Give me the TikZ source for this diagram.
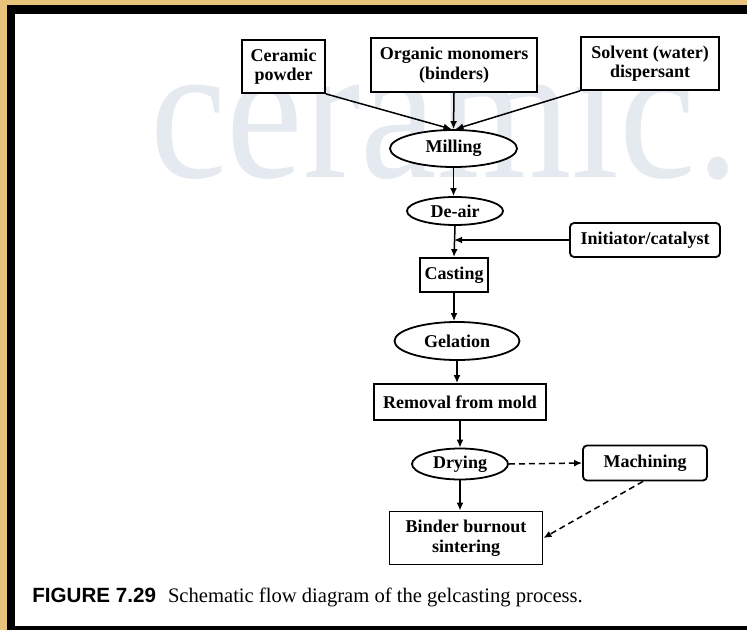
\documentclass[tikz,border=0pt]{standalone}
\usepackage{fontspec}
\setmainfont{Liberation Serif}
\setsansfont{Liberation Sans}
\usetikzlibrary{shapes.geometric,arrows.meta}
\definecolor{gold}{RGB}{232,196,122}
\definecolor{wm}{RGB}{229,234,240}
\begin{document}
\begin{tikzpicture}[x=0.5pt,y=-0.5pt,
  box/.style={draw,line width=0.9pt,fill=white,inner sep=0pt,align=center,font=\fontsize{9}{9.8}\selectfont\bfseries},
  rbox/.style={box,rounded corners=2pt},
  oval/.style={box,ellipse},
  conn/.style={line width=0.75pt,-{Latex[length=4pt,width=3.4pt]}},
  dconn/.style={conn,dash pattern=on 3pt off 2pt}]
\useasboundingbox (0,0) rectangle (747,630);
% frame
\fill[gold] (0,0) rectangle (747,630);
\fill[black] (7,5) rectangle (747,630);
\fill[white] (15,14) rectangle (747,626);
% watermark
\node[anchor=base west,text=wm,font=\fontsize{98}{98}\selectfont,xscale=0.88,inner sep=0pt] (wmk) at (150,178) {ceramic.};
% nodes
\node[box,minimum width=41.5pt,minimum height=26.5pt] (cer) at (283.5,66.5) {Ceramic\\powder};
\node[box,minimum width=83pt,minimum height=27pt] (org) at (454,65) {Organic monomers\\(binders)};
\node[box,minimum width=69pt,minimum height=26.5pt] (sol) at (650,63.5) {Solvent (water)\\dispersant};
\node[oval,minimum width=63.5pt,minimum height=18.5pt] (mil) at (453.5,148.5) {Milling};
\node[oval,minimum width=48pt,minimum height=14pt] (dea) at (455,211) {De-air};
\node[rbox,minimum width=75pt,minimum height=17pt] (ini) at (645,240) {Initiator/catalyst};
\node[box,minimum width=34pt,minimum height=17pt] (cas) at (454,275) {Casting};
\node[oval,minimum width=62.5pt,minimum height=19pt] (gel) at (457,341) {Gelation};
\node[box,minimum width=86pt,minimum height=18pt] (rem) at (460,402) {Removal from mold};
\node[oval,minimum width=48pt,minimum height=15.5pt] (dry) at (460,464) {Drying};
\node[rbox,minimum width=62pt,minimum height=17.5pt] (mac) at (645,463) {Machining};
\node[box,minimum width=76.5pt,minimum height=26.5pt] (bin) at (466,538) {Binder burnout\\sintering};
% connectors
\draw[conn] (cer.south east) -- ([xshift=-1pt]mil.north);
\draw[conn] (org.south) -- (mil.north);
\draw[conn] (sol.south west) -- ([xshift=1pt]mil.north);
\draw[conn] (mil.south) -- (mil.south |- dea.north);
\coordinate (j) at (cas.north |- ini.west);
\draw[conn] (dea.south) -- (cas.north);
\draw[conn] (ini.west) -- (j);
\draw[conn] (cas.south) -- (cas.south |- gel.north);
\draw[conn] (gel.south) -- (gel.south |- rem.north);
\draw[conn] (rem.south) -- (rem.south |- dry.north);
\draw[conn] (dry.south) -- (dry.south |- bin.north);
\draw[dconn] (dry.east) -- (mac.west);
\draw[dconn] ([xshift=-1pt]mac.south) -- (bin.east);
% caption
\node[anchor=base west,inner sep=0pt] (cap) at (32,602) {\fontsize{10.3}{12}\selectfont{\sffamily\bfseries FIGURE 7.29}\hspace{6pt}Schematic flow diagram of the gelcasting process.};
\end{tikzpicture}
\end{document}
